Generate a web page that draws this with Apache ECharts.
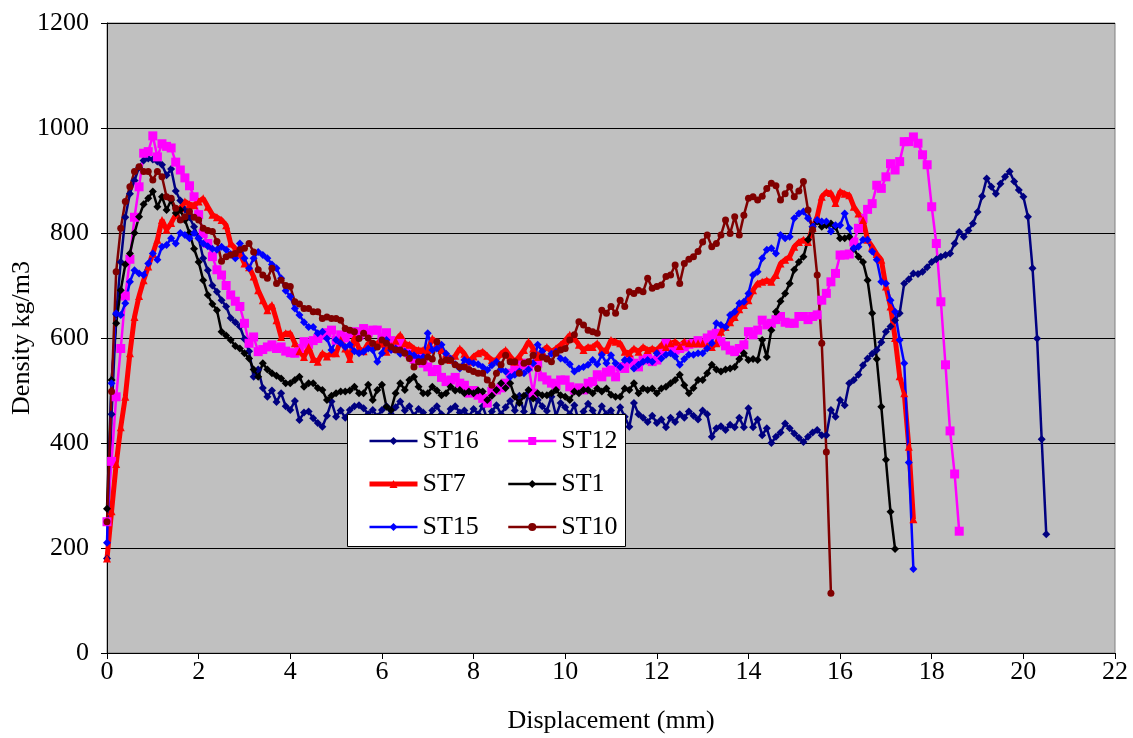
<!DOCTYPE html>
<html>
<head>
<meta charset="utf-8">
<title>Density profile vs displacement</title>
<script src="https://cdn.jsdelivr.net/npm/echarts@6/dist/echarts.min.js"></script>
<style>
  html, body { margin: 0; padding: 0; background: #ffffff; }
  #chart { width: 1133px; height: 738px; }
</style>
</head>
<body>
<div id="chart"></div>
<script>
// Density readings (kg/m3), sampled every STEP mm of displacement starting at 0 mm.
const STEP = 0.1;

const xTicks = [0, 2, 4, 6, 8, 10, 12, 14, 16, 18, 20, 22];
const yTicks = [0, 200, 400, 600, 800, 1000, 1200];

const st16 = [
  180, 455, 645, 745, 830, 875, 900, 925, 938, 942,
  940, 936, 930, 910, 922, 880, 862, 845, 830, 812,
  790, 752, 729, 700, 688, 672, 660, 638, 630, 622,
  598, 575, 526, 540, 505, 488, 500, 478, 495, 470,
  463, 480, 444, 458, 460, 447, 438, 431, 452, 479,
  450, 462, 448, 463, 470, 472, 466, 455, 463, 450,
  463, 470, 455, 468, 479, 462, 470, 452, 465, 458,
  445, 462, 470, 455, 448, 465, 470, 458, 462, 450,
  465, 455, 470, 445, 460, 472, 455, 468, 480, 462,
  490, 460, 495, 455, 482, 470, 461, 488, 452, 476,
  468, 455, 472, 440, 460, 475, 462, 448, 470, 455,
  462, 445, 468, 450, 431, 476, 455, 448, 440, 452,
  438, 445, 430, 448, 440, 455, 448, 460, 452, 445,
  462, 455, 412, 428, 432, 425, 435, 430, 448, 430,
  466, 430, 445, 415, 428, 400, 412, 420, 437, 428,
  418, 410, 402, 412, 420, 425, 415, 415, 463, 450,
  482, 472, 514, 520, 530, 548, 561, 570, 577, 592,
  612, 622, 634, 647, 704, 712, 723, 722, 726, 735,
  745, 750, 755, 758, 761, 780, 802, 793, 805, 818,
  840, 870, 904, 888, 875, 894, 907, 917, 898, 882,
  869, 831, 733, 599, 407, 226
];

const st12 = [
  250, 365, 488, 580, 680, 750, 830, 888, 952, 955,
  985, 945, 970, 965, 962, 935, 920, 905, 890, 869,
  835, 799, 780, 755, 730, 720, 700, 682, 670, 660,
  628, 590, 602, 574, 578, 583, 587, 580, 583, 575,
  572, 571, 580, 593, 588, 595, 599, 605, 610, 615,
  596, 606, 600, 609, 612, 605, 618, 610, 615, 615,
  600, 610, 595, 580, 590, 575, 570, 560, 565, 552,
  545, 536, 540, 525, 517, 520, 525, 514, 510, 495,
  500, 491, 485, 476, 498, 501, 505, 514, 533, 540,
  549, 552, 545, 495, 552, 526, 520, 514, 510, 520,
  520, 507, 501, 505, 501, 514, 517, 530, 526, 535,
  539, 526, 545, 542, 558, 552, 545, 558, 561, 555,
  558, 571, 590, 583, 577, 580, 583, 588, 590, 595,
  590, 600, 606, 609, 593, 585, 577, 574, 580, 587,
  612, 606, 615, 634, 625, 628, 635, 641, 630, 628,
  628, 641, 641, 635, 641, 644, 672, 685, 707, 723,
  758, 758, 760, 783, 809, 828, 845, 856, 891, 885,
  907, 932, 920, 936, 974, 974, 983, 971, 949, 930,
  850, 780, 669, 549, 423, 341, 232
];

const st7 = [
  180, 270, 360, 430, 488, 571, 640, 680, 710, 736,
  761, 787, 825, 806, 819, 835, 847, 860, 855, 853,
  860, 866, 850, 835, 830, 825, 815, 780, 770, 761,
  742, 735, 717, 691, 672, 653, 663, 634, 602, 609,
  609, 590, 575, 564, 583, 560, 555, 571, 565, 571,
  571, 596, 580, 560, 602, 580, 575, 590, 585, 590,
  590, 574, 585, 595, 606, 590, 587, 580, 577, 577,
  577, 599, 590, 577, 570, 558, 566, 580, 570, 555,
  565, 571, 574, 566, 558, 558, 570, 577, 565, 555,
  565, 577, 593, 580, 564, 575, 583, 574, 580, 587,
  595, 606, 599, 587, 577, 583, 583, 590, 577, 577,
  596, 593, 590, 574, 571, 580, 574, 583, 577, 580,
  577, 587, 583, 590, 593, 585, 593, 590, 590, 590,
  590, 585, 583, 590, 612, 621, 630, 640, 655, 663,
  672, 691, 704, 707, 710, 707, 720, 742, 749, 755,
  774, 783, 787, 783, 810, 831, 869, 878, 876, 857,
  879, 875, 872, 850, 837, 825, 787, 774, 760, 749,
  698, 660, 600, 527, 495, 393, 255
];

const st1 = [
  275, 520, 628, 691, 740, 761, 800, 831, 855, 866,
  879, 850, 869, 844, 863, 838, 844, 825, 800, 770,
  745, 710, 682, 665, 653, 612, 605, 596, 585, 580,
  571, 561, 540, 526, 552, 540, 533, 528, 523, 514,
  514, 520, 526, 507, 514, 514, 505, 501, 482, 490,
  495, 498, 498, 500, 507, 495, 495, 511, 482, 501,
  511, 469, 463, 495, 514, 501, 520, 526, 507, 495,
  495, 507, 500, 491, 495, 507, 500, 501, 495, 498,
  495, 500, 498, 482, 490, 501, 514, 505, 514, 488,
  476, 490, 501, 485, 495, 491, 491, 495, 501, 491,
  488, 482, 498, 495, 501, 501, 495, 504, 498, 504,
  492, 488, 488, 504, 501, 514, 495, 504, 501, 504,
  495, 504, 507, 514, 520, 530, 510, 495, 505, 520,
  520, 533, 549, 540, 536, 540, 542, 545, 560, 571,
  558, 560, 558, 596, 564, 615, 650, 670, 685, 704,
  730, 745, 755, 787, 812, 822, 812, 815, 818, 812,
  790, 790, 793, 770, 755, 745, 710, 647, 560, 469,
  368, 269, 198
];

const st15 = [
  210, 514, 647, 644, 666, 707, 729, 723, 720, 742,
  761, 749, 774, 777, 790, 780, 800, 796, 790, 800,
  790, 780, 775, 770, 768, 774, 768, 760, 752, 780,
  752, 733, 752, 764, 758, 752, 740, 733, 714, 690,
  679, 656, 644, 630, 621, 621, 609, 612, 599, 577,
  596, 590, 583, 587, 575, 571, 574, 580, 577, 555,
  571, 596, 577, 580, 570, 574, 570, 567, 562, 564,
  609, 577, 580, 587, 570, 561, 550, 542, 558, 555,
  552, 550, 545, 539, 548, 555, 540, 536, 526, 530,
  536, 533, 540, 552, 587, 575, 561, 570, 574, 561,
  558, 550, 536, 542, 545, 549, 558, 550, 568, 552,
  567, 552, 545, 558, 558, 542, 549, 555, 558, 555,
  571, 561, 568, 571, 565, 549, 560, 568, 568, 571,
  571, 580, 590, 628, 625, 621, 644, 650, 666, 669,
  685, 720, 726, 752, 768, 771, 761, 796, 790, 793,
  828, 837, 841, 828, 812, 825, 822, 822, 803, 815,
  815, 837, 809, 771, 774, 787, 787, 765, 749, 707,
  704, 672, 650, 596, 552, 363, 160
];

const st10 = [
  250, 498, 726, 809, 860, 888, 917, 926, 917, 917,
  901, 917, 907, 869, 866, 847, 825, 831, 841, 830,
  825, 809, 805, 803, 784, 746, 755, 758, 761, 768,
  771, 780, 764, 730, 720, 714, 733, 704, 710, 700,
  698, 669, 665, 656, 656, 650, 650, 637, 640, 637,
  637, 634, 618, 615, 612, 599, 609, 600, 590, 583,
  596, 590, 583, 577, 577, 571, 561, 545, 555, 555,
  564, 560, 593, 555, 558, 558, 549, 545, 545, 540,
  536, 533, 533, 520, 510, 533, 549, 567, 555, 555,
  533, 552, 555, 567, 542, 564, 560, 555, 571, 577,
  580, 596, 606, 631, 625, 615, 612, 609, 653, 647,
  660, 647, 672, 660, 688, 685, 691, 688, 714, 695,
  698, 701, 717, 720, 739, 704, 742, 750, 755, 765,
  783, 796, 774, 780, 796, 825, 799, 831, 796, 834,
  866, 869, 863, 870, 885, 895, 890, 863, 875, 888,
  869, 880, 898, 844, 806, 720, 590, 383, 114
];

// Pair each reading with its displacement position.
function toPoints(values) {
  return values.map(function (v, i) { return [Math.round(i * STEP * 10) / 10, v]; });
}

const FONT = "'Liberation Serif', 'Times New Roman', serif";

const seriesDefs = [
  { name: 'ST16', values: st16, color: '#000080', symbol: 'diamond', size: 8, width: 2.5 },
  { name: 'ST12', values: st12, color: '#FF00FF', symbol: 'rect', size: 9, width: 2.5 },
  { name: 'ST7',  values: st7,  color: '#FF0000', symbol: 'triangle', size: 8, width: 5 },
  { name: 'ST1',  values: st1,  color: '#000000', symbol: 'diamond', size: 8, width: 2.5 },
  { name: 'ST15', values: st15, color: '#0000FF', symbol: 'diamond', size: 8, width: 2.5 },
  { name: 'ST10', values: st10, color: '#800000', symbol: 'circle', size: 7, width: 2.5 }
];

function lineSeries(d) {
  return {
    name: d.name,
    type: 'line',
    data: toPoints(d.values),
    symbol: d.symbol,
    symbolSize: d.size,
    showSymbol: true,
    showAllSymbol: true,
    lineStyle: { color: d.color, width: d.width },
    itemStyle: { color: d.color, borderWidth: 0 },
    emphasis: { disabled: true },
    animation: false,
    z: 2
  };
}

function legendItem(name) {
  const d = seriesDefs.find(function (s) { return s.name === name; });
  return { name: name, lineStyle: { width: d.width, color: d.color } };
}

const chart = echarts.init(document.getElementById('chart'), null, { renderer: 'canvas' });

const legendText = { fontFamily: FONT, fontSize: 26, color: '#000000' };

chart.setOption({
  backgroundColor: '#ffffff',
  animation: false,
  grid: {
    left: 107, top: 23, right: 18, bottom: 85,
    outerBoundsMode: 'none',
    containLabel: false,
    show: true,
    backgroundColor: '#C0C0C0',
    borderColor: '#808080',
    borderWidth: 1
  },
  xAxis: {
    type: 'value',
    min: xTicks[0],
    max: xTicks[xTicks.length - 1],
    interval: xTicks[1] - xTicks[0],
    name: 'Displacement (mm)',
    nameLocation: 'middle',
    nameGap: 55,
    nameMoveOverlap: false,
    nameTextStyle: { fontFamily: FONT, fontSize: 26, color: '#000000' },
    axisLine: { show: true, onZero: false, lineStyle: { color: '#000000', width: 1 } },
    axisTick: { show: true, inside: false, length: 6, lineStyle: { color: '#000000' } },
    axisLabel: { fontFamily: FONT, fontSize: 26, color: '#000000', margin: 6,
                 formatter: function (v) { return String(v); } },
    splitLine: { show: false }
  },
  yAxis: {
    type: 'value',
    min: yTicks[0],
    max: yTicks[yTicks.length - 1],
    interval: yTicks[1] - yTicks[0],
    name: 'Density kg/m3',
    nameLocation: 'middle',
    nameGap: 72,
    nameRotate: 90,
    nameMoveOverlap: false,
    nameTextStyle: { fontFamily: FONT, fontSize: 26, color: '#000000' },
    axisLine: { show: true, lineStyle: { color: '#000000', width: 1 } },
    axisTick: { show: true, inside: false, length: 6, lineStyle: { color: '#000000' } },
    axisLabel: { fontFamily: FONT, fontSize: 26, color: '#000000', margin: 18,
                 formatter: function (v) { return String(v); } },
    splitLine: { show: true, lineStyle: { color: '#000000', width: 1 } }
  },
  legend: [
    {
      data: ['ST16', 'ST7', 'ST15'].map(legendItem),
      orient: 'vertical',
      left: 362, top: 423,
      itemGap: 17, itemWidth: 48, itemHeight: 10,
      textStyle: legendText,
      selectedMode: false,
      z: 6
    },
    {
      data: ['ST12', 'ST1', 'ST10'].map(legendItem),
      orient: 'vertical',
      left: 502, top: 423,
      itemGap: 17, itemWidth: 48, itemHeight: 10,
      textStyle: legendText,
      selectedMode: false,
      z: 6
    }
  ],
  graphic: [{
    type: 'rect',
    z: 5,
    shape: { x: 347.5, y: 414.5, width: 278, height: 132 },
    style: { fill: '#ffffff', stroke: '#000000', lineWidth: 1 }
  }],
  series: seriesDefs.map(lineSeries)
});
</script>
</body>
</html>
